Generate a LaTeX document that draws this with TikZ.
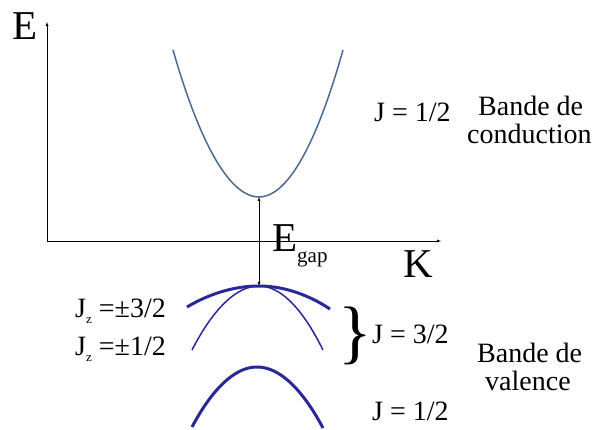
\documentclass[tikz,border=0pt]{standalone}
\usepackage{fontspec}
\setmainfont{Liberation Serif}
\newfontfamily\tnr{Liberation Serif}
\definecolor{condblue}{RGB}{74,106,150}
\definecolor{valblue}{RGB}{40,40,150}
\tikzset{
  lbl/.style={anchor=base west, inner sep=0pt},
  big/.style={lbl, font=\tnr\fontsize{41}{41}\selectfont},
}
\begin{document}
\begin{tikzpicture}[x=1pt, y=-1pt, font=\tnr\fontsize{28}{30}\selectfont, >=latex]
  \useasboundingbox (0,0) rectangle (594,430);
  % axes
  \coordinate (o) at (47,241);
  \coordinate (etop) at (47,22);
  \coordinate (kend) at (441,241);
  \draw[->] (o) -- (etop);
  \draw[->] (o) -- (kend);
  \node[big] (E) at (12,40) {E};
  \node[big] (K) at (403,277) {K};
  % bands
  \coordinate (cb) at (259,197);
  \coordinate (vb) at (259,286);
  \coordinate (so) at (257,367);
  \draw[condblue, line width=1.5pt] (173,50) parabola bend (cb) (343,50);
  \draw[valblue, line width=3pt] (187,307) parabola bend (vb) (330,309);
  \draw[valblue, line width=1.5pt] (192,350) parabola bend (vb) (323,350);
  \draw[valblue, line width=3pt] (192,427) parabola bend (so) (323,428);
  \draw[<->] (cb) -- (vb);
  \node[big] (Eg) at (272,252) {E\raisebox{-10pt}{\fontsize{21}{21}\selectfont gap}};
  % labels
  \node[lbl] (jc) at (374,122) {J = 1/2};
  \node[lbl] (bc1) at (478,116) {Bande de};
  \node[lbl] (bc2) at (467,144) {conduction};
  \node[lbl] (jz1) at (75,317) {J\raisebox{-6pt}{\fontsize{13}{13}\selectfont z} =±3/2};
  \node[lbl] (jz2) at (75,355) {J\raisebox{-6pt}{\fontsize{13}{13}\selectfont z} =±1/2};
  \node[inner sep=0pt, font=\tnr\fontsize{70}{70}\selectfont] (br) at (355,336) {\}};
  \node[lbl] (jv1) at (372,343) {J = 3/2};
  \node[lbl] (jv2) at (372,420) {J = 1/2};
  \node[lbl] (bv1) at (477,362) {Bande de};
  \node[lbl] (bv2) at (485,390) {valence};
\end{tikzpicture}
\end{document}
